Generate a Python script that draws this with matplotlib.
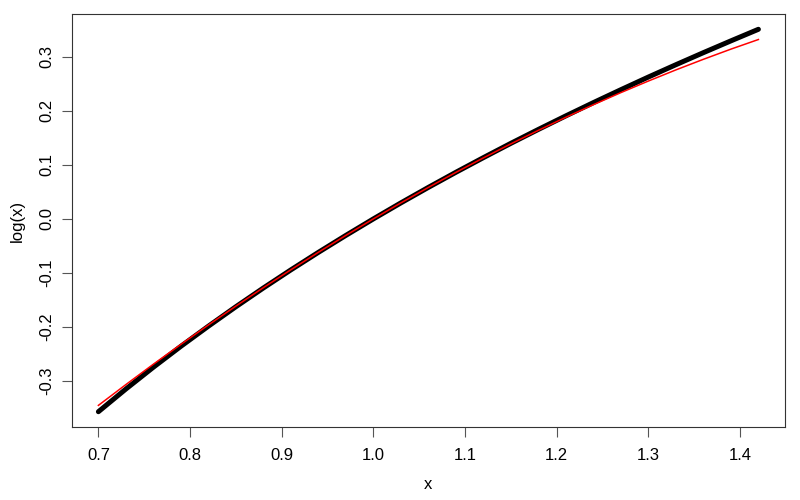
import matplotlib
matplotlib.use("Agg")
import matplotlib.pyplot as plt

plt.rcParams['font.family'] = ['Liberation Sans', 'DejaVu Sans']

x_vals = [0.70, 0.73, 0.76, 0.79, 0.82, 0.85, 0.88, 0.91, 0.94, 0.97, 1.00,
          1.03, 1.06, 1.09, 1.12, 1.15, 1.18, 1.21, 1.24, 1.27, 1.30, 1.33,
          1.36, 1.39, 1.42]
log_vals = [-0.3567, -0.3147, -0.2744, -0.2357, -0.1985, -0.1625, -0.1278,
            -0.0943, -0.0619, -0.0305, 0.0, 0.0296, 0.0583, 0.0862, 0.1133,
            0.1398, 0.1655, 0.1906, 0.2151, 0.2390, 0.2624, 0.2852, 0.3075,
            0.3293, 0.3507]
approx_vals = [-0.3450, -0.3065, -0.2688, -0.2321, -0.1962, -0.1613, -0.1272,
               -0.0941, -0.0618, -0.0305, 0.0, 0.0296, 0.0582, 0.0860, 0.1128,
               0.1388, 0.1638, 0.1880, 0.2112, 0.2336, 0.2550, 0.2756, 0.2952,
               0.3140, 0.3318]
x_ticks = [0.7, 0.8, 0.9, 1.0, 1.1, 1.2, 1.3, 1.4]
y_ticks = [-0.3, -0.2, -0.1, 0.0, 0.1, 0.2, 0.3]

fig = plt.figure(figsize=(8, 5), dpi=100)
ax = fig.add_axes([0.09, 0.146, 0.891, 0.826])

ax.plot(x_vals, log_vals, color='black', lw=3.6, solid_capstyle='round')
ax.plot(x_vals, approx_vals, color='red', lw=1.1)

ax.set_xlim(0.6712, 1.4488)
ax.set_ylim(-0.385, 0.379)
ax.set_xticks(x_ticks)
ax.set_xticklabels([f"{t:.1f}" for t in x_ticks])
ax.set_yticks(y_ticks)
ax.set_yticklabels([f"{t:.1f}" for t in y_ticks], rotation=90, va='center')

for s in ax.spines.values():
    s.set_color('#333333')
    s.set_linewidth(0.8)
ax.tick_params(direction='out', length=7, width=0.8, color='#555555',
               labelsize=12, pad=6)
ax.tick_params(axis='x', pad=8)

ax.set_xlabel('x', fontsize=12, labelpad=10)
ax.set_ylabel('log(x)', fontsize=12, labelpad=10)

fig.savefig('out.png', dpi=100)
